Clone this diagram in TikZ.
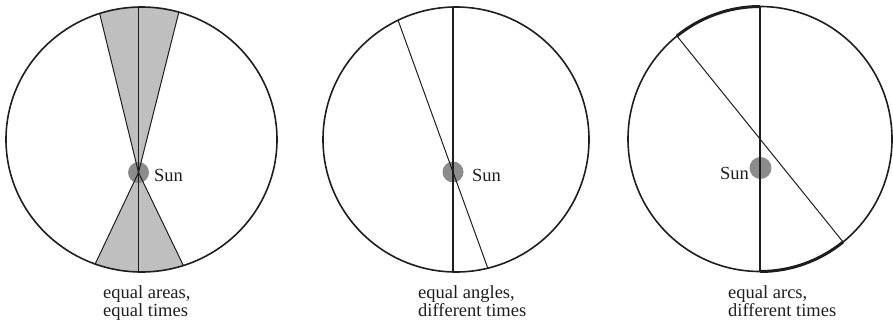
\documentclass[tikz,border=0pt]{standalone}
\usepackage{fontspec}
\setmainfont{Liberation Serif}
\usetikzlibrary{intersections,calc}
\definecolor{ink}{HTML}{1E1E1E}
\definecolor{wedgegray}{HTML}{BFBFBF}
\definecolor{sungray}{HTML}{8C8C8C}
\begin{document}
\begin{tikzpicture}[x=1pt,y=1pt,
  orbit/.style={draw=ink, line width=1.6pt},
  axisline/.style={draw=ink, line width=1.4pt},
  thinline/.style={draw=ink, line width=1.0pt},
  thickarc/.style={draw=ink, line width=3pt},
  wedgefill/.style={fill=wedgegray},
  sundisc/.style={fill=sungray},
  lbl/.style={font=\fontsize{18.5}{18}\selectfont, text=ink, inner sep=0pt},
  caption/.style={lbl, align=left, anchor=north west}
]
\useasboundingbox (0,0) rectangle (893,322);

% ---------- circle 1 : equal areas ----------
\coordinate (C1) at (141.5,182.5);
\coordinate (S1) at (138.5,149.5);
\coordinate (A1) at ($(C1)+(108:135.5 and 132.5)$);
\coordinate (B1) at ($(C1)+(74:135.5 and 132.5)$);
\coordinate (D1) at ($(C1)+(250:135.5 and 132.5)$);
\coordinate (E1) at ($(C1)+(288:135.5 and 132.5)$);
\coordinate (T1) at ($(C1)+(91.3:135.5 and 132.5)$);
\coordinate (U1) at ($(C1)+(268.7:135.5 and 132.5)$);
\fill[wedgefill] (S1) -- (A1) arc[start angle=108, end angle=74, x radius=135.5, y radius=132.5] -- cycle;
\fill[wedgefill] (S1) -- (D1) arc[start angle=250, end angle=288, x radius=135.5, y radius=132.5] -- cycle;
\draw[orbit] (C1) ellipse[x radius=135.5, y radius=132.5];
\fill[sundisc] (S1) circle[radius=10.5];
\draw[axisline] (T1) -- (U1);
\draw[thinline] (S1) -- (A1);
\draw[thinline] (S1) -- (B1);
\draw[thinline] (S1) -- (D1);
\draw[thinline] (S1) -- (E1);
\node[lbl, anchor=base west] (sun1) at (154,141) {Sun};
\node[caption] (cap1) at (103,37) {equal areas,\\equal times};

% ---------- circle 2 : equal angles ----------
\coordinate (C2) at (456,182.5);
\coordinate (S2) at (453,150);
\coordinate (T2) at ($(C2)+(91.3:133 and 132.5)$);
\coordinate (U2) at ($(C2)+(268.7:133 and 132.5)$);
\path[name path=orbit2] (C2) ellipse[x radius=133, y radius=132.5];
\path[name path=ray2] ($(S2)+(109.9:220)$) -- ($(S2)+(-70.1:220)$);
\path[name intersections={of=orbit2 and ray2, by={P2,Q2}}];
\draw[orbit] (C2) ellipse[x radius=133, y radius=132.5];
\fill[sundisc] (S2) circle[radius=10.5];
\draw[axisline] (T2) -- (U2);
\draw[thinline] (P2) -- (Q2);
\node[lbl, anchor=base west] (sun2) at (472,141) {Sun};
\node[caption] (cap2) at (418,37) {equal angles,\\different times};

% ---------- circle 3 : equal arcs ----------
\coordinate (C3) at (760,183);
\coordinate (S3) at (760.5,154);
\coordinate (T3) at ($(C3)+(90:132 and 132.5)$);
\coordinate (U3) at ($(C3)+(270:132 and 132.5)$);
\coordinate (P3) at ($(C3)+(129:132 and 132.5)$);
\coordinate (Q3) at ($(C3)+(309:132 and 132.5)$);
\draw[orbit] (C3) ellipse[x radius=132, y radius=132.5];
\draw[thickarc] (P3) arc[start angle=129, end angle=90, x radius=132, y radius=132.5];
\draw[thickarc] (U3) arc[start angle=270, end angle=309, x radius=132, y radius=132.5];
\fill[sundisc] (S3) circle[radius=11];
\draw[axisline] (T3) -- (U3);
\draw[thinline] (P3) -- (Q3);
\node[lbl, anchor=base east] (sun3) at (749,143) {Sun};
\node[caption] (cap3) at (728,37) {equal arcs,\\different times};
\end{tikzpicture}
\end{document}
